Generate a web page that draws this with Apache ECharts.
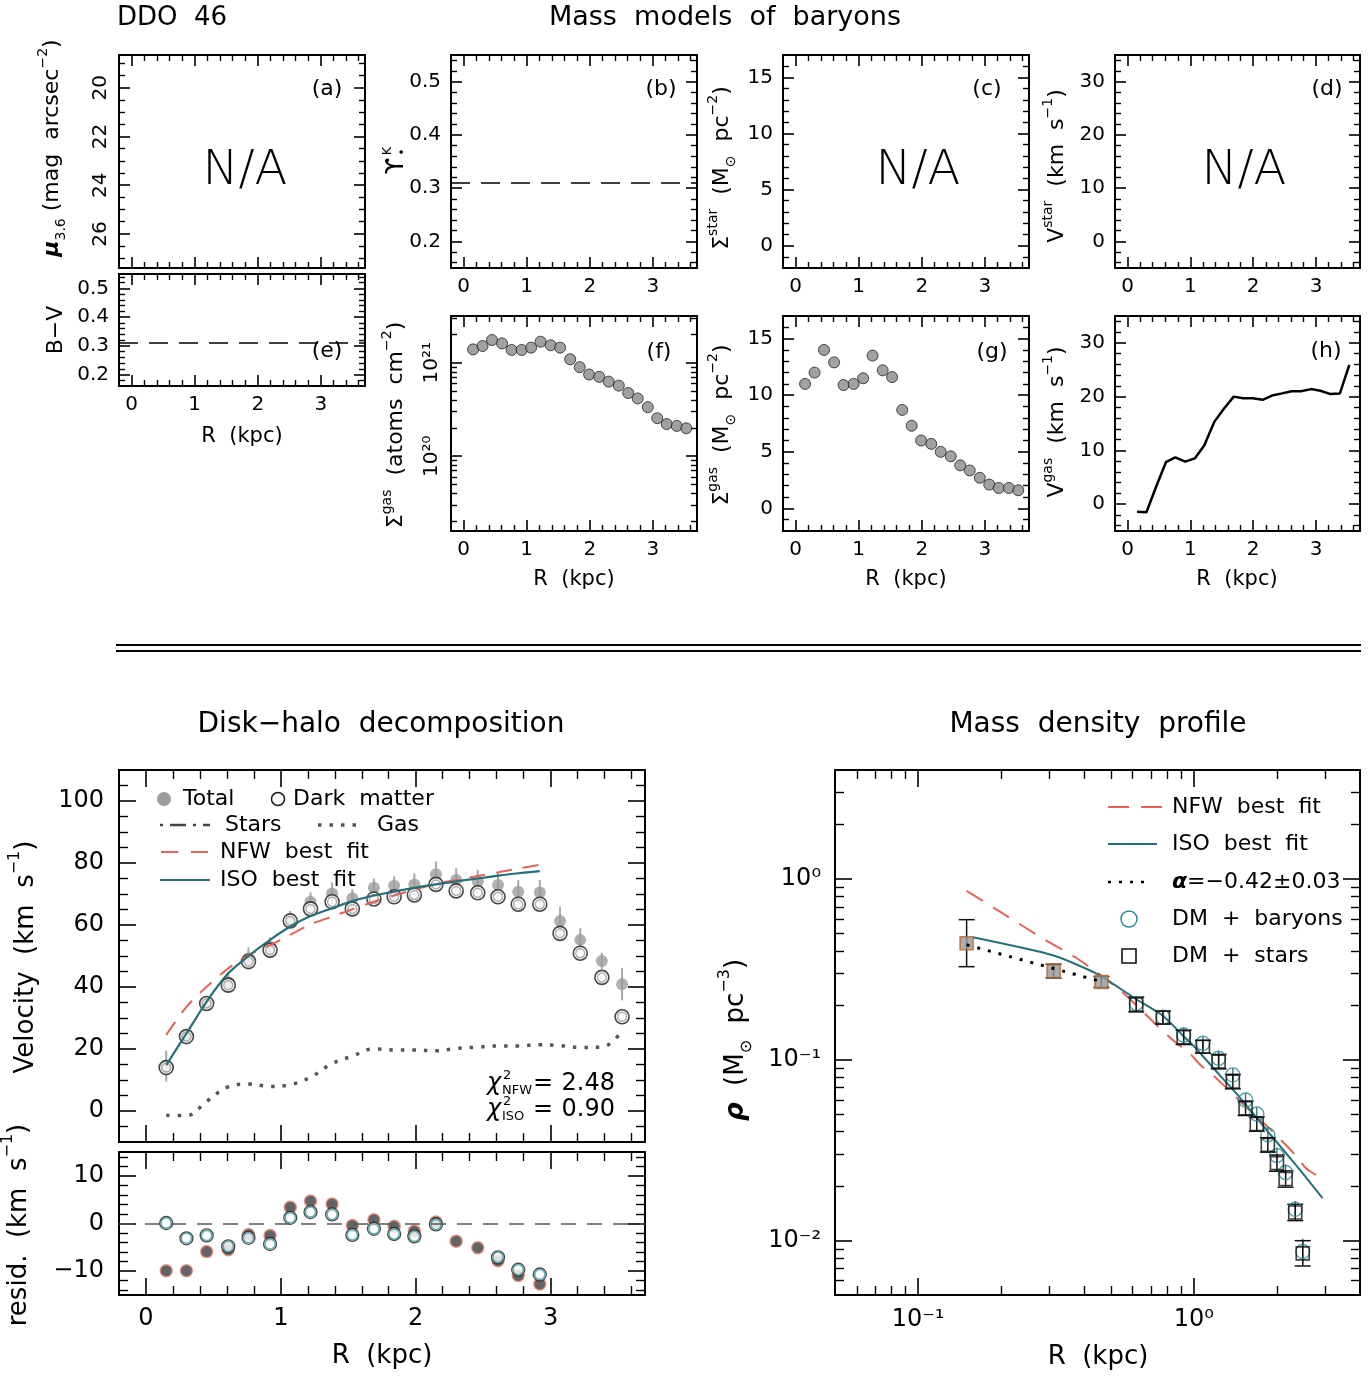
<!DOCTYPE html>
<html><head><meta charset="utf-8">
<script src="https://cdn.jsdelivr.net/npm/echarts@6.0.0/dist/echarts.min.js"></script>
<style>html,body{margin:0;padding:0;background:#fff;}#c{width:1372px;height:1376px;}</style>
</head><body><div id="c"></div>
<script>
// ---------------- DATA ----------------
const radii = [0.15,0.30,0.45,0.61,0.76,0.92,1.07,1.22,1.38,1.53,1.69,1.84,1.99,2.15,2.30,2.46,2.61,2.76,2.92,3.07,3.22,3.38,3.53];
const upsilonK = 0.31;
const colorBV = 0.31;
const sigmaGasAtoms = [1.39e21,1.51e21,1.75e21,1.61e21,1.37e21,1.37e21,1.45e21,1.68e21,1.54e21,1.45e21,1.09e21,8.97e20,7.48e20,7.06e20,6.28e20,5.69e20,4.74e20,4.15e20,3.35e20,2.55e20,2.21e20,2.11e20,1.99e20];
const sigmaGasMsun = [11.0,12.0,14.0,12.9,10.9,11.0,11.5,13.5,12.2,11.6,8.7,7.3,6.0,5.7,5.0,4.6,3.8,3.35,2.7,2.1,1.8,1.8,1.6];
const vGas = [-1.4,-1.5,3.1,7.8,8.7,7.9,8.5,10.9,15.3,17.7,20.0,19.7,19.7,19.4,20.2,20.6,21.0,21.0,21.4,21.1,20.5,20.6,25.9];
const vTotal = [14.5,24.3,35.0,41.5,49.3,53.0,62.0,67.5,70.2,68.6,72.0,72.7,73.1,76.4,74.5,74.0,72.9,70.7,70.5,61.3,55.2,48.4,40.9];
const vTotalErr = [5,2,2,3.2,3.5,3,2.5,3,3.5,3,3,3,3.5,4.1,3.8,3.8,3.8,3.8,4,4.6,3.8,2.6,5.2];
const vDM = [14.0,24.0,34.7,40.6,48.2,51.9,61.3,65.2,67.5,65.2,68.4,69.1,69.7,73.1,71.0,70.4,69.1,66.7,66.7,57.3,50.9,43.1,30.4];
const vNFW = [24.5,33.6,40.1,46.0,50.3,53.5,56.8,60.2,62.7,65.1,67.5,69.5,71.4,73.3,74.5,75.8,77.0,78.2,79.4];
const vISO = [14.8,25.0,35.3,44.4,50.0,55.2,59.5,62.9,65.4,67.7,69.5,70.8,72.0,73.1,74.1,75.0,75.9,76.7,77.4];
const residNFW = [-9.9,-9.9,-5.9,-5.5,-2.3,-2.5,3.4,4.7,4.1,-0.4,0.8,-0.6,-1.6,0.3,-3.7,-5.1,-7.8,-10.9,-12.7];
const residISO = [0.1,-3.1,-2.5,-4.8,-3.0,-4.3,1.2,2.4,1.9,-2.4,-1.1,-2.2,-2.7,-0.2,null,null,-7.1,-9.7,-10.7];
const rhoR = [0.150,0.310,0.462,0.618,0.772,0.918,1.078,1.229,1.384,1.539,1.690,1.853,2.000,2.150,2.330,2.480];
const rhoStars = [0.441,0.309,0.269,0.202,0.171,0.133,0.118,0.0976,0.0757,0.0539,0.0441,0.0338,0.0268,0.0219,0.0143,0.0085];
const rhoBaryons = [0.441,0.309,0.269,0.205,0.172,0.137,0.1234,0.1019,0.0824,0.0599,0.0501,0.0384,0.0295,0.0238,0.0149,0.0087];
const rhoErrDex = [0.13,0.038,0.03,0.041,0.035,0.04,0.035,0.04,0.04,0.04,0.04,0.04,0.045,0.045,0.045,0.07];
const innerSlopeCount = 3;
const nfwRhoR = [0.15,0.198,0.292,0.375,0.53,0.751,0.851,0.964,1.063,1.204,1.657,1.877,2.097,2.331,2.549,2.75,2.888];
const nfwRho  = [0.858,0.659,0.455,0.365,0.248,0.150,0.126,0.1086,0.0925,0.0791,0.0495,0.0418,0.0352,0.0297,0.0251,0.0232,0.0221];
const isoRhoR = [0.158,0.308,0.442,0.618,0.772,0.925,1.005,1.238,1.422,1.634,1.877,2.158,2.477,2.927];
const isoRho  = [0.475,0.378,0.300,0.216,0.175,0.133,0.118,0.0824,0.0653,0.0506,0.0392,0.0304,0.0236,0.01714];
const alphaR = [0.15,0.46];
const alphaRho = [0.432,0.271];
// tick values
const rTicks = [0,1,2,3];
const muTicks = [20,22,24,26];
const bvTicks = [0.2,0.3,0.4,0.5];
const upsTicks = [0.2,0.3,0.4,0.5];
const sigmaTicks = [0,5,10,15];
const vSmallTicks = [0,10,20,30];
const gasLogTicks = [1e20,1e21];
const vcTicks = [0,20,40,60,80,100];
const resTicks = [-10,0,10];
const rhoXTicks = [0.1,1];
const rhoYTicks = [0.01,0.1,1];

// ---------------- helpers ----------------
const FF = 'DejaVu Sans';
const TEAL = '#266f79', RED = '#e0645a';
const SUPC = {'0':'⁰','1':'¹','2':'²','3':'³','4':'⁴','5':'⁵','6':'⁶','7':'⁷','8':'⁸','9':'⁹','-':'⁻'};
const pow10Label = v => '10' + String(Math.round(Math.log10(v))).split('').map(c => SUPC[c]).join('');
const fmtNum = v => (v < 0 ? '−' : '') + Math.abs(v);
function linMinor(lo, hi, step, ex) {
  const out = []; const s = Math.ceil(lo / step - 1e-9);
  for (let i = s; i * step <= hi + 1e-9; i++) {
    const v = Math.round(i * step * 1e6) / 1e6;
    if (v > lo && v < hi && !ex.some(e => Math.abs(e - v) < 1e-9)) out.push(v);
  }
  return out;
}
function logMinor(lo, hi) {
  const out = [];
  for (let e = Math.floor(Math.log10(lo)); e <= Math.floor(Math.log10(hi)); e++)
    for (let m = 2; m <= 9; m++) { const v = m * Math.pow(10, e); if (v > lo && v < hi) out.push(v); }
  return out;
}
const grid = [], xAxis = [], yAxis = [], series = [], elements = [];
function mkAxis(gi, c, pos, labels) {
  const isLog = c.type === 'log';
  const common = {gridIndex: gi, type: isLog ? 'log' : 'value', min: c.min, max: c.max, position: pos,
    inverse: !!c.inverse, splitLine: {show: false}, minorSplitLine: {show: false}, minorTick: {show: false},
    silent: true, axisPointer: {show: false}};
  if (isLog) common.logBase = 10;
  const major = Object.assign({}, common, {
    axisLine: {show: true, onZero: false, lineStyle: {color: '#000', width: 2}},
    axisTick: {show: true, inside: true, length: c.majorLen, lineStyle: {color: '#000', width: 1.6}, customValues: c.major},
    axisLabel: labels ? {show: true, customValues: c.major, color: '#000', fontFamily: FF, fontSize: c.fs,
      margin: c.margin, rotate: c.rotate || 0, formatter: c.fmt || fmtNum} : {show: false}
  });
  const minor = Object.assign({}, common, {
    axisLine: {show: false, onZero: false},
    axisTick: {show: true, inside: true, length: c.minorLen, lineStyle: {color: '#000', width: 1.4}, customValues: c.minor},
    axisLabel: {show: false}
  });
  return [major, minor];
}
function panel(rect, xc, yc, showX, showY) {
  const gi = grid.length;
  grid.push({left: rect[0], top: rect[1], width: rect[2], height: rect[3], containLabel: false, outerBoundsMode: 'none', show: false});
  const xi = xAxis.length;
  xAxis.push(...mkAxis(gi, xc, 'bottom', showX), ...mkAxis(gi, xc, 'top', false));
  const yi = yAxis.length;
  yAxis.push(...mkAxis(gi, yc, 'left', showY), ...mkAxis(gi, yc, 'right', false));
  return {xAxisIndex: xi, yAxisIndex: yi};
}
function errSeries(p, data, color, cap, width, z) {
  return Object.assign({type: 'custom', silent: true, z: z || 2, data, encode: {x: 0, y: [1, 2]},
    renderItem: (params, api) => {
      const a = api.coord([api.value(0), api.value(1)]), b = api.coord([api.value(0), api.value(2)]);
      const st = {stroke: color, lineWidth: width};
      const ch = [{type: 'line', shape: {x1: a[0], y1: a[1], x2: b[0], y2: b[1]}, style: st}];
      if (cap) {
        ch.push({type: 'line', shape: {x1: a[0] - cap, y1: a[1], x2: a[0] + cap, y2: a[1]}, style: st});
        ch.push({type: 'line', shape: {x1: b[0] - cap, y1: b[1], x2: b[0] + cap, y2: b[1]}, style: st});
      }
      return {type: 'group', children: ch};
    }}, p);
}
const dashMark = (y, dash, color) => ({silent: true, symbol: ['none', 'none'], label: {show: false}, animation: false,
  emphasis: {disabled: true}, lineStyle: {color: color, width: 1.6, type: dash}, data: [{yAxis: y}]});
const zip = (xs, ys) => xs.map((x, i) => [x, ys[i]]);

// ---------------- axis configs ----------------
const xSmall = {min: -0.2, max: 3.7, major: rTicks, minor: linMinor(-0.2, 3.7, 0.2, rTicks), majorLen: 11, minorLen: 6, fs: 20, margin: 9};
const xBig = {min: -0.2, max: 3.7, major: rTicks, minor: linMinor(-0.2, 3.7, 0.2, rTicks), majorLen: 17, minorLen: 9, fs: 24, margin: 12};
const S = {majorLen: 11, minorLen: 6, fs: 20, margin: 10};
const yA = Object.assign({}, S, {min: 18.65, max: 27.4, inverse: true, major: muTicks, minor: linMinor(18.65, 27.4, 0.5, muTicks), rotate: 90, margin: 8});
const yE = Object.assign({}, S, {min: 0.16, max: 0.55, major: bvTicks, minor: linMinor(0.16, 0.55, 0.02, bvTicks)});
const yB = Object.assign({}, S, {min: 0.15, max: 0.55, major: upsTicks, minor: linMinor(0.15, 0.55, 0.02, upsTicks)});
const yC = Object.assign({}, S, {min: -2, max: 17, major: sigmaTicks, minor: linMinor(-2, 17, 1, sigmaTicks)});
const yD = Object.assign({}, S, {min: -5, max: 35, major: vSmallTicks, minor: linMinor(-5, 35, 2, vSmallTicks)});
const yF = Object.assign({}, S, {type: 'log', min: Math.pow(10, 19.2), max: Math.pow(10, 21.5), major: gasLogTicks,
  minor: logMinor(Math.pow(10, 19.2), Math.pow(10, 21.5)), rotate: 90, margin: 9, fmt: pow10Label});
const yVC = {min: -10, max: 110, major: vcTicks, minor: linMinor(-10, 110, 5, vcTicks), majorLen: 17, minorLen: 9, fs: 24, margin: 15};
const yRes = {min: -15, max: 15, major: resTicks, minor: linMinor(-15, 15, 2, resTicks), majorLen: 17, minorLen: 9, fs: 24, margin: 15};
const xRho = {type: 'log', min: 0.05, max: 4, major: rhoXTicks, minor: logMinor(0.05, 4), majorLen: 17, minorLen: 9, fs: 24, margin: 13, fmt: pow10Label};
const yRho = {type: 'log', min: 0.005, max: 4, major: rhoYTicks, minor: logMinor(0.005, 4), majorLen: 17, minorLen: 9, fs: 24, margin: 14, fmt: pow10Label};

// ---------------- panels ----------------
const pA = panel([119, 55, 246, 213], xSmall, yA, false, true);
const pE = panel([119, 274, 246, 112], xSmall, yE, true, true);
const pB = panel([451, 55, 246, 213], xSmall, yB, true, true);
const pC = panel([783, 55, 246, 213], xSmall, yC, true, true);
const pD = panel([1115, 55, 245, 213], xSmall, yD, true, true);
const pF = panel([451, 316, 246, 215], xSmall, yF, true, true);
const pG = panel([783, 316, 246, 215], xSmall, yC, true, true);
const pH = panel([1115, 316, 245, 215], xSmall, yD, true, true);
const pVC = panel([119, 770, 526, 372], xBig, yVC, false, true);
const pRes = panel([119, 1152, 526, 143], xBig, yRes, true, true);
const pRho = panel([835, 770, 525, 525], xRho, yRho, true, true);

// ---------------- series ----------------
series.push(Object.assign({type: 'line', data: [], markLine: dashMark(upsilonK, [19, 11], '#000')}, pB));
series.push(Object.assign({type: 'line', data: [], markLine: dashMark(colorBV, [19, 11], '#000')}, pE));
series.push(Object.assign({type: 'scatter', data: zip(radii, sigmaGasAtoms), symbol: 'circle', symbolSize: 11,
  itemStyle: {color: '#8a8a8a', borderColor: '#222', borderWidth: 1}}, pF));
series.push(Object.assign({type: 'scatter', data: zip(radii, sigmaGasMsun), symbol: 'circle', symbolSize: 11,
  itemStyle: {color: '#8a8a8a', borderColor: '#222', borderWidth: 1}}, pG));
series.push(Object.assign({type: 'line', data: zip(radii, vGas), symbol: 'none', showSymbol: false,
  lineStyle: {color: '#000', width: 2.5}}, pH));

// disk-halo decomposition
series.push(errSeries(pVC, radii.map((r, i) => [r, vTotal[i] - vTotalErr[i], vTotal[i] + vTotalErr[i]]), '#a8a8a8', 0, 2, 2));
series.push(Object.assign({type: 'scatter', z: 3, data: zip(radii, vTotal), symbol: 'circle', symbolSize: 12,
  itemStyle: {color: '#9c9c9c'}}, pVC));
series.push(Object.assign({type: 'scatter', z: 3, data: zip(radii, vDM), symbol: 'circle', symbolSize: 14,
  itemStyle: {color: '#fff', borderColor: '#1a1a1a', borderWidth: 1.6}}, pVC));
series.push(Object.assign({type: 'scatter', z: 3, data: zip(radii, vDM), symbol: 'circle', symbolSize: 9,
  itemStyle: {color: 'rgba(0,0,0,0)', borderColor: '#9c9c9c', borderWidth: 1.5}}, pVC));
series.push(Object.assign({type: 'line', z: 4, data: zip(radii, vGas), smooth: 0.4, symbol: 'none', showSymbol: false,
  lineStyle: {color: '#555', width: 3.5, type: [3.5, 8]}}, pVC));
series.push(Object.assign({type: 'line', z: 4, data: zip(radii, vNFW), smooth: 0.3, symbol: 'none', showSymbol: false,
  lineStyle: {color: RED, width: 2, type: [16, 11]}}, pVC));
series.push(Object.assign({type: 'line', z: 4, data: zip(radii, vISO), smooth: 0.3, symbol: 'none', showSymbol: false,
  lineStyle: {color: TEAL, width: 2.2}}, pVC));

// residuals
series.push(Object.assign({type: 'line', data: [], markLine: dashMark(0, [15, 11], '#555')}, pRes));
const isoResData = radii.slice(0, residISO.length).map((r, i) => [r, residISO[i]]).filter(d => d[1] !== null);
series.push(Object.assign({type: 'scatter', z: 3, data: radii.slice(0, residNFW.length).map((r, i) => [r, residNFW[i]]),
  symbol: 'circle', symbolSize: 12, itemStyle: {color: '#3d3d3d', borderColor: '#e58577', borderWidth: 1.5}}, pRes));
series.push(Object.assign({type: 'scatter', z: 4, data: isoResData, symbol: 'circle', symbolSize: 13,
  itemStyle: {color: '#fff', borderColor: '#1a1a1a', borderWidth: 1.3}}, pRes));
series.push(Object.assign({type: 'scatter', z: 4, data: isoResData, symbol: 'circle', symbolSize: 10,
  itemStyle: {color: 'rgba(0,0,0,0)', borderColor: '#3a9aa4', borderWidth: 1.5}}, pRes));

// mass density profile
series.push(Object.assign({type: 'line', z: 3, data: zip(nfwRhoR, nfwRho), smooth: 0.3, symbol: 'none', showSymbol: false,
  lineStyle: {color: RED, width: 2, type: [19, 12]}}, pRho));
series.push(Object.assign({type: 'line', z: 3, data: zip(isoRhoR, isoRho), smooth: 0.2, symbol: 'none', showSymbol: false,
  lineStyle: {color: TEAL, width: 2}}, pRho));
const outer = rhoR.map((r, i) => i).filter(i => i >= innerSlopeCount);
series.push(errSeries(pRho, outer.map(i => [rhoR[i], rhoBaryons[i] / Math.pow(10, rhoErrDex[i]), rhoBaryons[i] * Math.pow(10, rhoErrDex[i])]), TEAL, 0, 1.3, 4));
series.push(errSeries(pRho, rhoR.map((r, i) => [r, rhoStars[i] / Math.pow(10, rhoErrDex[i]), rhoStars[i] * Math.pow(10, rhoErrDex[i])]), '#111', 8, 1.5, 4));
series.push(Object.assign({type: 'scatter', z: 5, data: outer.map(i => [rhoR[i], rhoBaryons[i]]), symbol: 'circle', symbolSize: 14,
  itemStyle: {color: 'rgba(0,0,0,0)', borderColor: '#2f8792', borderWidth: 1.4}}, pRho));
series.push(Object.assign({type: 'scatter', z: 5, data: outer.map(i => [rhoR[i], rhoStars[i]]), symbol: 'rect', symbolSize: 13,
  itemStyle: {color: 'rgba(0,0,0,0)', borderColor: '#111', borderWidth: 1.6}}, pRho));
series.push(Object.assign({type: 'scatter', z: 5, data: rhoR.slice(0, innerSlopeCount).map((r, i) => [r, rhoStars[i]]), symbol: 'rect', symbolSize: 13,
  itemStyle: {color: '#999', borderColor: '#b8642c', borderWidth: 1.6}}, pRho));
series.push(Object.assign({type: 'line', z: 6, data: zip(alphaR, alphaRho), symbol: 'none', showSymbol: false,
  lineStyle: {color: '#000', width: 3, type: [3, 8]}}, pRho));

// ---------------- text & legends ----------------
function RICH(fs) {
  const s = Math.round(fs * 0.62);
  return {
    sup: {fontSize: s, fontFamily: FF, verticalAlign: 'top', fill: '#000'},
    sub: {fontSize: s, fontFamily: FF, verticalAlign: 'bottom', fill: '#000'},
    gk: {fontSize: fs, fontFamily: FF, fontWeight: 'bold', fontStyle: 'italic', fill: '#000'},
    it: {fontSize: fs, fontFamily: FF, fontStyle: 'italic', fill: '#000'}
  };
}
function T(x, y, text, fs, o) {
  o = o || {};
  elements.push({type: 'text', x: x, y: y, rotation: o.rot || 0, silent: true, z: 10,
    style: {text: text, fontSize: fs, fontFamily: FF, fontWeight: o.fw || 'normal', fontStyle: o.fst || 'normal', fill: '#000',
      align: o.align || 'center', verticalAlign: 'middle', lineHeight: Math.round(fs * 1.45), rich: RICH(fs)}});
}
function L(x1, y1, x2, y2, color, w, dash) {
  elements.push({type: 'line', silent: true, z: 10, shape: {x1, y1, x2, y2}, style: {stroke: color, lineWidth: w, lineDash: dash || null}});
}
const ROT = Math.PI / 2;
T(117, 18, 'DDO  46', 26, {align: 'left'});
T(725, 18, 'Mass  models  of  baryons', 27);
T(381, 725, 'Disk−halo  decomposition', 28);
T(1098, 725, 'Mass  density  profile', 28);
L(116, 645, 1361, 645, '#000', 2); L(116, 651, 1361, 651, '#000', 2);
// N/A
T(245, 172, 'N/A', 48, {fw: 200}); T(918, 172, 'N/A', 48, {fw: 200}); T(1244, 172, 'N/A', 48, {fw: 200});
// panel tags
[['(a)', 327, 89], ['(b)', 661, 89], ['(c)', 987, 89], ['(d)', 1327, 89], ['(e)', 327, 351], ['(f)', 659, 352], ['(g)', 992, 352], ['(h)', 1326, 351]]
  .forEach(t => T(t[1], t[2], t[0], 22));
// axis titles
T(52, 148, '{gk|μ}{sub|3.6} (mag  arcsec{sup|−2})', 22, {rot: ROT});
T(56, 330, 'B−V', 22, {rot: ROT});
T(397, 166, 'ϒ', 24, {rot: ROT});
T(388, 151, 'K', 13, {rot: ROT});
T(403, 152, '•', 12, {rot: ROT});
T(722, 168, 'Σ{sup|star}  (M{sub|⊙}  pc{sup|−2})', 22, {rot: ROT});
T(1057, 166, 'V{sup|star}  (km  s{sup|−1})', 22, {rot: ROT});
T(396, 425, 'Σ{sup|gas}  (atoms  cm{sup|−2})', 22, {rot: ROT});
T(722, 425, 'Σ{sup|gas}  (M{sub|⊙}  pc{sup|−2})', 22, {rot: ROT});
T(1057, 422, 'V{sup|gas}  (km  s{sup|−1})', 22, {rot: ROT});
T(242, 437, 'R  (kpc)', 21); T(574, 580, 'R  (kpc)', 21); T(906, 580, 'R  (kpc)', 21); T(1237, 580, 'R  (kpc)', 21);
T(26, 957, 'Velocity  (km  s{sup|−1})', 26, {rot: ROT});
T(19, 1225, 'resid.  (km  s{sup|−1})', 26, {rot: ROT});
T(382, 1356, 'R  (kpc)', 26);
T(736, 1040, '{gk|ρ}  (M{sub|⊙}  pc{sup|−3})', 26, {rot: ROT});
T(1098, 1357, 'R  (kpc)', 26);
// chi^2 (χ with stacked 2 / subscript)
T(487, 1084, 'χ', 24, {align: 'left', fst: 'italic'});
T(503, 1076, '2', 13, {align: 'left'});
T(502, 1091, 'NFW', 13, {align: 'left'});
T(543, 1084, '=', 24);
T(615, 1084, '2.48', 24, {align: 'right'});
T(487, 1110, 'χ', 24, {align: 'left', fst: 'italic'});
T(503, 1102, '2', 13, {align: 'left'});
T(502, 1117, 'ISO', 13, {align: 'left'});
T(543, 1110, '=', 24);
T(615, 1110, '0.90', 24, {align: 'right'});
// disk-halo legend
elements.push({type: 'circle', silent: true, z: 10, shape: {cx: 164, cy: 799, r: 7}, style: {fill: '#9c9c9c'}});
T(183, 799, 'Total', 22, {align: 'left'});
elements.push({type: 'circle', silent: true, z: 10, shape: {cx: 278, cy: 799, r: 6.5}, style: {fill: '#fff', stroke: '#1a1a1a', lineWidth: 1.5}});
T(293, 799, 'Dark  matter', 22, {align: 'left'});
L(160, 825, 210, 825, '#444', 2.5, [3, 7, 16, 7]);
T(225, 825, 'Stars', 22, {align: 'left'});
L(318, 825, 362, 825, '#555', 3.5, [3.5, 8]);
T(377, 825, 'Gas', 22, {align: 'left'});
L(161, 852, 211, 852, RED, 2, [17, 13]);
T(220, 852, 'NFW  best  fit', 22, {align: 'left'});
L(160, 880, 210, 880, TEAL, 2.2);
T(220, 880, 'ISO  best  fit', 22, {align: 'left'});
// density legend
L(1108, 807, 1163, 807, RED, 2, [21, 12]);
T(1172, 807, 'NFW  best  fit', 22, {align: 'left'});
L(1108, 844, 1157, 844, TEAL, 2);
T(1172, 844, 'ISO  best  fit', 22, {align: 'left'});
L(1108, 882, 1150, 882, '#000', 2.5, [3, 8]);
T(1172, 882, '{gk|α}=−0.42±0.03', 22, {align: 'left'});
elements.push({type: 'circle', silent: true, z: 10, shape: {cx: 1129, cy: 919, r: 8}, style: {fill: 'none', stroke: '#2f8792', lineWidth: 1.5}});
T(1172, 919, 'DM  +  baryons', 22, {align: 'left'});
elements.push({type: 'rect', silent: true, z: 10, shape: {x: 1122, y: 949, width: 14, height: 14}, style: {fill: 'none', stroke: '#111', lineWidth: 1.6}});
T(1172, 956, 'DM  +  stars', 22, {align: 'left'});

const chart = echarts.init(document.getElementById('c'), null, {width: 1372, height: 1376});
chart.setOption({
  animation: false,
  backgroundColor: '#fff',
  textStyle: {fontFamily: FF},
  grid, xAxis, yAxis, series,
  graphic: {elements}
});
</script>
</body></html>
